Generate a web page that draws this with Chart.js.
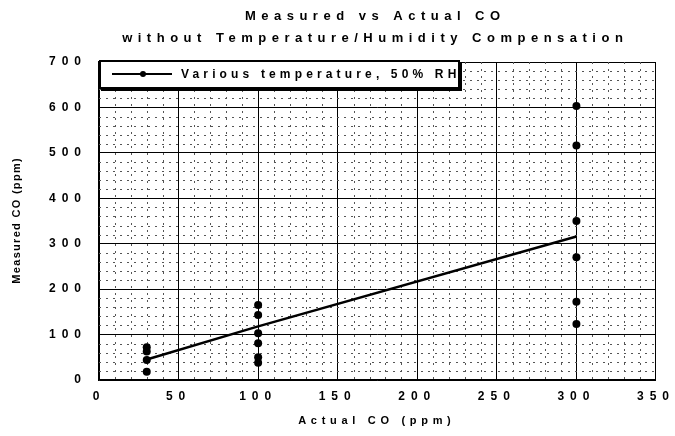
<!DOCTYPE html>
<html><head><meta charset="utf-8">
<script src="https://cdn.jsdelivr.net/npm/chart.js@4/dist/chart.umd.min.js"></script>
<style>html,body{margin:0;padding:0;background:#fff;}#wrap{width:675px;height:436px;}</style>
</head><body><div id="wrap"><canvas id="c" width="675" height="436"></canvas></div>
<script>
// ---- data ----
const titleLines = ['Measured vs Actual CO', 'without Temperature/Humidity Compensation'];
const xTitle = 'Actual CO (ppm)';
const yTitle = 'Measured CO (ppm)';
const seriesLabel = 'Various temperature, 50% RH';
const lineX = [30, 100, 300];
const lineY = [45, 118, 316];
const pointX = [30, 30, 30, 30, 100, 100, 100, 100, 100, 100, 300, 300, 300, 300, 300, 300];
const pointY = [72, 63, 44, 18, 165, 143, 103, 81, 50, 38, 603, 516, 350, 270, 172, 123];
const xTicks = [0, 50, 100, 150, 200, 250, 300, 350];
const yTicks = [0, 100, 200, 300, 400, 500, 600, 700];

const FONT = '"Liberation Sans", Arial, sans-serif';

function spacedText(ctx, str, x, y, size, spacing, align) {
  ctx.save();
  ctx.font = 'bold ' + size + 'px ' + FONT;
  ctx.letterSpacing = spacing + 'px';
  ctx.textAlign = 'left';
  ctx.textBaseline = 'middle';
  ctx.fillStyle = '#000';
  const w = ctx.measureText(str).width - spacing;
  let sx = x;
  if (align === 'center') sx = x - w / 2;
  ctx.fillText(str, sx, y);
  ctx.restore();
}

const minorGrid = {
  id: 'minorGrid',
  beforeDatasetsDraw(chart) {
    const ctx = chart.ctx, xs = chart.scales.x, ys = chart.scales.y, a = chart.chartArea;
    ctx.save();
    ctx.strokeStyle = '#555';
    ctx.lineWidth = 1;
    ctx.setLineDash([2, 5]);
    for (let v = xs.min + 10; v < xs.max; v += 10) {
      if (v % 50 === 0) continue;
      const px = Math.round(xs.getPixelForValue(v)) + 0.5;
      ctx.beginPath(); ctx.moveTo(px, a.top); ctx.lineTo(px, a.bottom); ctx.stroke();
    }
    for (let v = ys.min + 20; v < ys.max; v += 20) {
      if (v % 100 === 0) continue;
      const py = Math.round(ys.getPixelForValue(v)) + 0.5;
      ctx.beginPath(); ctx.moveTo(a.left, py); ctx.lineTo(a.right, py); ctx.stroke();
    }
    ctx.restore();
  }
};

const textDeco = {
  id: 'textDeco',
  beforeDraw(chart) { chart.ctx.letterSpacing = '6px'; },
  afterDraw(chart) {
    const ctx = chart.ctx;
    ctx.letterSpacing = '0px';
    const a = chart.chartArea;
    const cx = (a.left + a.right) / 2;
    spacedText(ctx, titleLines[0], cx - 5, 16, 13, 5.5, 'center');
    spacedText(ctx, titleLines[1], cx - 5, 38, 13, 5.5, 'center');
    spacedText(ctx, xTitle, cx - 3, 421, 11, 4.7, 'center');
    ctx.save();
    ctx.translate(17, (a.top + a.bottom) / 2);
    ctx.rotate(-Math.PI / 2);
    spacedText(ctx, yTitle, 0, 0, 11, 1.3, 'center');
    ctx.restore();
    // legend
    const ds = chart.data.datasets[0];
    const lx = a.left, ly = a.top - 2, lw = 361, lh = 29;
    ctx.save();
    ctx.fillStyle = '#fff';
    ctx.fillRect(lx, ly, lw, lh);
    ctx.strokeStyle = '#000';
    ctx.lineWidth = 2;
    ctx.strokeRect(lx + 1, ly + 1, lw - 2, lh - 2);
    ctx.fillStyle = '#000';
    ctx.fillRect(lx + 2, ly + lh, lw, 2);
    ctx.fillRect(lx + lw, ly + 2, 2, lh);
    ctx.beginPath();
    ctx.moveTo(lx + 13, ly + 14); ctx.lineTo(lx + 73, ly + 14);
    ctx.lineWidth = 2; ctx.stroke();
    ctx.beginPath(); ctx.arc(lx + 44, ly + 14, 3, 0, Math.PI * 2); ctx.fill();
    ctx.restore();
    spacedText(ctx, ds.label, lx + 82, ly + 15, 12, 4.15, 'left');
  }
};

new Chart(document.getElementById('c'), {
  type: 'scatter',
  data: {
    datasets: [
      {
        label: seriesLabel,
        data: lineX.map((x, i) => ({ x: x, y: lineY[i] })),
        showLine: true,
        borderColor: '#000',
        borderWidth: 2.5,
        pointRadius: 0,
        pointHoverRadius: 0
      },
      {
        label: 'points',
        data: pointX.map((x, i) => ({ x: x, y: pointY[i] })),
        showLine: false,
        pointStyle: 'circle',
        pointRadius: 4,
        backgroundColor: '#000',
        borderColor: '#000',
        borderWidth: 0
      }
    ]
  },
  options: {
    responsive: false,
    animation: false,
    devicePixelRatio: 1,
    layout: { padding: { left: 0, right: 15, top: 62, bottom: 0 } },
    plugins: { legend: { display: false }, title: { display: false }, tooltip: { enabled: false } },
    scales: {
      x: {
        type: 'linear', min: 0, max: 350,
        afterBuildTicks: s => { s.ticks = xTicks.map(v => ({ value: v })); },
        afterFit: s => { s.height = 56; },
        ticks: { color: '#000', font: { family: FONT, size: 12, weight: 'bold' }, padding: 9, maxRotation: 0, autoSkip: false },
        grid: { color: '#000', lineWidth: 1, drawTicks: false },
        border: { color: '#000', width: 1.5 }
      },
      y: {
        type: 'linear', min: 0, max: 700,
        afterBuildTicks: s => { s.ticks = yTicks.map(v => ({ value: v })); },
        afterFit: s => { s.width = 99; },
        ticks: { color: '#000', font: { family: FONT, size: 12, weight: 'bold' }, padding: 12, autoSkip: false },
        grid: { color: '#000', lineWidth: 1, drawTicks: false },
        border: { color: '#000', width: 1.5 }
      }
    }
  },
  plugins: [minorGrid, textDeco]
});
</script>
</body></html>
